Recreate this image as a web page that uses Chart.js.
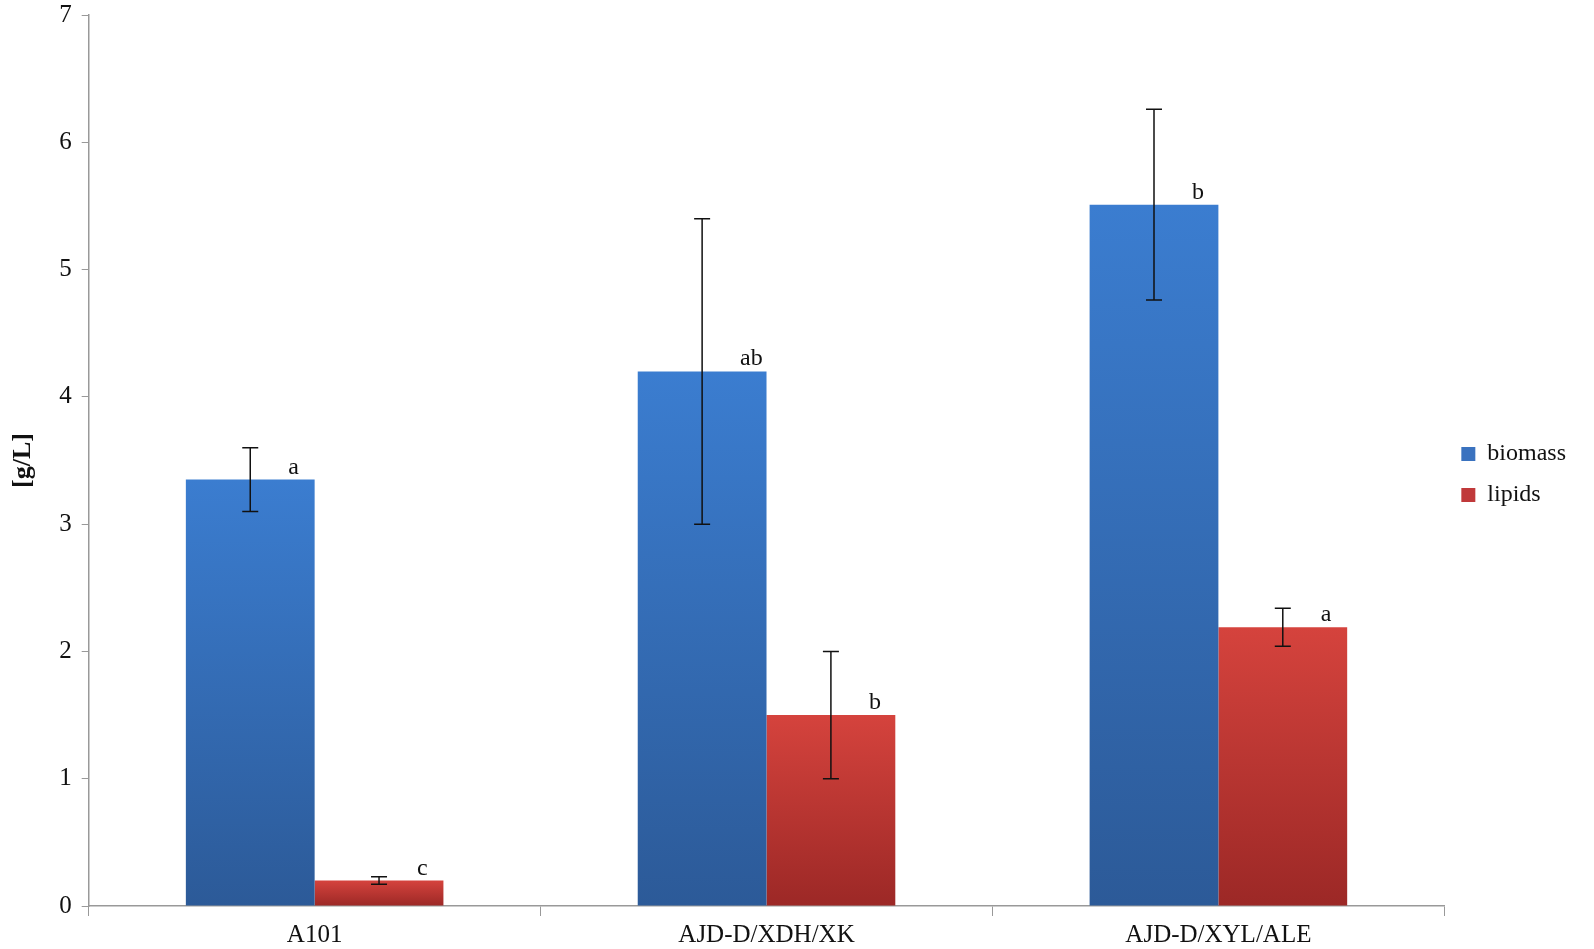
<!DOCTYPE html>
<html>
<head>
<meta charset="utf-8">
<script src="https://cdn.jsdelivr.net/npm/chart.js@4"></script>
<style>
  html, body { margin: 0; padding: 0; background: #fff; }
  #wrap { width: 1594px; height: 949px; }
</style>
</head>
<body>
<div id="wrap"><canvas id="chart" width="1594" height="949"></canvas></div>
<script>
// values
const strains = ['A101', 'AJD-D/XDH/XK', 'AJD-D/XYL/ALE'];
const biomass = [3.35, 4.2, 5.51];
const biomassErr = [0.25, 1.2, 0.75];
const lipids = [0.2, 1.5, 2.19];
const lipidsErr = [0.03, 0.5, 0.15];
const biomassLetters = ['a', 'ab', 'b'];
const lipidsLetters = ['c', 'b', 'a'];
const yTicks = [0, 1, 2, 3, 4, 5, 6, 7];

const serif = '"Liberation Serif", "Times New Roman", serif';

// vertical gradient per bar, light at the top, dark at the bottom
function barGradient(light, dark) {
  return (ctx) => {
    const chart = ctx.chart;
    const area = chart.chartArea;
    if (!area || ctx.raw == null) return light;
    const top = chart.scales.y.getPixelForValue(ctx.raw);
    const g = chart.ctx.createLinearGradient(0, top, 0, area.bottom);
    g.addColorStop(0, light);
    g.addColorStop(1, dark);
    return g;
  };
}

const errorBars = {
  id: 'errorBars',
  afterDatasetsDraw(chart) {
    const { ctx, scales } = chart;
    chart.data.datasets.forEach((ds, i) => {
      const meta = chart.getDatasetMeta(i);
      meta.data.forEach((bar, j) => {
        const v = ds.data[j];
        const e = ds.errors[j];
        const yHi = scales.y.getPixelForValue(v + e);
        const yLo = scales.y.getPixelForValue(v - e);
        ctx.save();
        ctx.strokeStyle = '#111';
        ctx.lineWidth = 1.5;
        ctx.beginPath();
        ctx.moveTo(bar.x, yHi);
        ctx.lineTo(bar.x, yLo);
        ctx.moveTo(bar.x - 8, yHi);
        ctx.lineTo(bar.x + 8, yHi);
        ctx.moveTo(bar.x - 8, yLo);
        ctx.lineTo(bar.x + 8, yLo);
        ctx.stroke();

        ctx.fillStyle = '#111';
        ctx.font = '24px ' + serif;
        ctx.textAlign = 'left';
        ctx.textBaseline = 'alphabetic';
        ctx.fillText(ds.letters[j], bar.x + 38, bar.y - 6);
        ctx.restore();
      });
    });
  }
};

new Chart(document.getElementById('chart'), {
  type: 'bar',
  data: {
    labels: strains,
    datasets: [
      {
        label: 'biomass',
        data: biomass,
        errors: biomassErr,
        letters: biomassLetters,
        backgroundColor: barGradient('#3b7dd0', '#2c5a98'),
        borderWidth: 0,
        categoryPercentage: 0.57,
        barPercentage: 1.0,
      },
      {
        label: 'lipids',
        data: lipids,
        errors: lipidsErr,
        letters: lipidsLetters,
        backgroundColor: barGradient('#d5433d', '#9c2826'),
        borderWidth: 0,
        categoryPercentage: 0.57,
        barPercentage: 1.0,
      },
    ],
  },
  options: {
    responsive: false,
    animation: false,
    layout: { padding: { top: 0, right: 18, left: 8, bottom: 0 } },
    plugins: {
      tooltip: { enabled: false },
      legend: {
        position: 'right',
        labels: {
          color: '#111',
          font: { family: serif, size: 24 },
          boxWidth: 14,
          boxHeight: 14,
          padding: 17,
          generateLabels(chart) {
            const cols = ['#3a72bf', '#c0393a'];
            return chart.data.datasets.map((ds, i) => ({
              text: ds.label,
              fillStyle: cols[i],
              strokeStyle: cols[i],
              lineWidth: 0,
              datasetIndex: i,
              fontColor: '#111',
            }));
          },
        },
      },
    },
    scales: {
      x: {
        afterFit(axis) {
          axis.height -= 5;
        },
        grid: {
          display: true,
          drawOnChartArea: false,
          offset: true,
          tickLength: 10,
          color: '#999',
        },
        border: { color: '#999', width: 1.5 },
        ticks: {
          color: '#111',
          font: { family: serif, size: 25 },
          padding: 4,
        },
      },
      y: {
        min: 0,
        max: 7,
        afterBuildTicks(axis) {
          axis.ticks = yTicks.map((v) => ({ value: v }));
        },
        afterFit(axis) {
          axis.paddingTop = 15;
        },
        grid: {
          display: true,
          drawOnChartArea: false,
          tickLength: 7,
          color: '#999',
        },
        border: { color: '#999', width: 1.5 },
        ticks: {
          color: '#111',
          font: { family: serif, size: 25 },
          padding: 10,
        },
        title: {
          display: true,
          text: '[g/L]',
          color: '#111',
          font: { family: serif, size: 26, weight: 'bold' },
          padding: { top: 0, bottom: 10 },
        },
      },
    },
  },
  plugins: [errorBars],
});
</script>
</body>
</html>
